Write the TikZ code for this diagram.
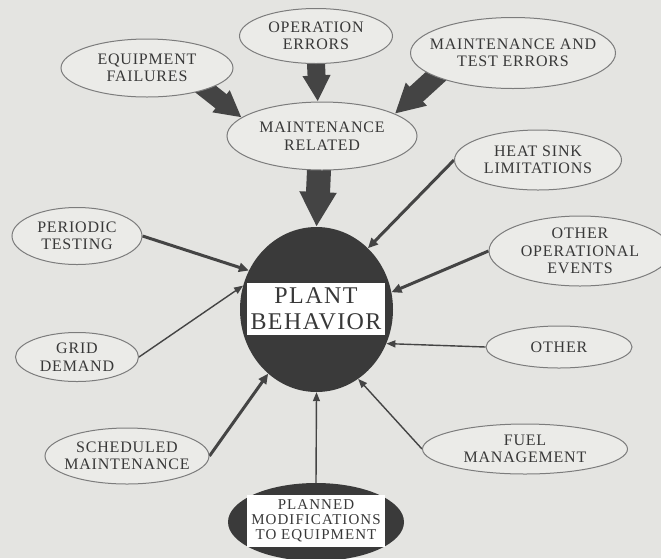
\documentclass[tikz,border=0pt]{standalone}
\usepackage{fontspec}
\usepackage{tikz}
\usetikzlibrary{arrows.meta,shapes.geometric}
\newfontfamily\lblfont[LetterSpace=5]{Liberation Serif}
\newfontfamily\hubfont[LetterSpace=6]{Liberation Serif}
\newfontfamily\planfont[LetterSpace=7]{Liberation Serif}
\definecolor{paper}{HTML}{E4E4E1}
\definecolor{bubblefill}{HTML}{EBEBE8}
\definecolor{inkgray}{HTML}{383838}
\definecolor{rimgray}{HTML}{7C7C7C}
\definecolor{hubdark}{HTML}{3A3A3A}
\definecolor{arrdark}{HTML}{444444}
\pgfdeclarelayer{bg}
\pgfsetlayers{bg,main}

\begin{document}
\begin{tikzpicture}[
  x=1pt, y=-1pt,
  bubble/.style={ellipse, draw=rimgray, fill=bubblefill, line width=1pt, inner sep=0pt},
  txt/.style={align=center, inner sep=0pt, text=inkgray, font=\lblfont\fontsize{16}{17.5}\selectfont},
  whitebox/.style={fill=white, inner sep=0pt, align=center, text=inkgray, minimum width=138pt, minimum height=52pt},
  bigarr/.style={draw=arrdark, line width=#1, shorten <=-8pt, -{Triangle[length=0pt 1.45, width=0pt 1.45]}},
  arr/.style={draw=arrdark, line width=3pt, -{Triangle[length=10pt, width=9pt]}},
  thinarr/.style={draw=arrdark, line width=1.4pt, -{Triangle[length=9pt, width=7pt]}}
]
  \useasboundingbox (0,0) rectangle (661,558);

  \node[bubble, minimum width=172pt, minimum height=58pt] (equip) at (147,68) {};
  \node[txt] (equiptxt) at (equip) {EQUIPMENT\\FAILURES};
  \node[bubble, minimum width=153pt, minimum height=55pt] (oper) at (316,36) {};
  \node[txt] (opertxt) at (oper) {OPERATION\\ERRORS};
  \node[bubble, minimum width=205pt, minimum height=71pt] (mte) at (513,53) {};
  \node[txt] (mtetxt) at (mte) {MAINTENANCE AND\\TEST ERRORS};
  \node[bubble, minimum width=190pt, minimum height=68pt] (mrel) at (322,136) {};
  \node[txt] (mreltxt) at (mrel) {MAINTENANCE\\RELATED};
  \node[bubble, minimum width=167pt, minimum height=60pt] (heat) at (538,160) {};
  \node[txt] (heattxt) at (heat) {HEAT SINK\\LIMITATIONS};
  \node[bubble, minimum width=130pt, minimum height=57pt] (periodic) at (77,236) {};
  \node[txt] (periodictxt) at (periodic) {PERIODIC\\TESTING};
  \node[bubble, minimum width=182pt, minimum height=70pt] (opev) at (580,251) {};
  \node[txt] (opevtxt) at (opev) {OTHER\\OPERATIONAL\\EVENTS};
  \node[bubble, minimum width=123pt, minimum height=49pt] (grid) at (77,357) {};
  \node[txt] (gridtxt) at (grid) {GRID\\DEMAND};
  \node[bubble, minimum width=146pt, minimum height=42pt] (other) at (559,347) {};
  \node[txt] (othertxt) at (other) {OTHER};
  \node[bubble, minimum width=164pt, minimum height=56pt] (sched) at (127,456) {};
  \node[txt] (schedtxt) at (sched) {SCHEDULED\\MAINTENANCE};
  \node[bubble, minimum width=205pt, minimum height=50pt] (fuel) at (525,449) {};
  \node[txt] (fueltxt) at (fuel) {FUEL\\MANAGEMENT};

  \node[ellipse, fill=hubdark, inner sep=0pt, minimum width=153pt, minimum height=165pt] (plant) at (316.5,309.5) {};
  \node[whitebox, font=\hubfont\fontsize{24}{26}\selectfont] (plantbox) at (316,309) {PLANT\\BEHAVIOR};
  \node[ellipse, fill=hubdark, inner sep=0pt, minimum width=176pt, minimum height=78pt] (planned) at (316,522) {};
  \node[whitebox, font=\planfont\fontsize{15}{15}\selectfont] (plannedbox) at (316,521) {PLANNED\\MODIFICATIONS\\TO EQUIPMENT};

  \begin{pgfonlayer}{bg}
    \fill[paper] (0,0) rectangle (661,558);
    \draw[bigarr=18pt] (equip.-20) -- (mrel.167);
    \draw[bigarr=18pt] (oper.south) -- (mrel.97);
    \draw[bigarr=20pt] (mte.-163) -- (mrel.17);
    \draw[bigarr=24pt] (mrel.-95) -- (plant.north);
    \draw[arr] (heat.west) -- (plant.50);
    \draw[arr] (opev.west) -- (plant.13);
    \draw[arr] (periodic.east) -- (plant.150);
    \draw[arr] (sched.east) -- (plant.-127);
    \draw[thinarr] (other.west) -- (plant.-26);
    \draw[thinarr] (fuel.west) -- (plant.-59);
    \draw[thinarr] (grid.east) -- (plant.162);
    \draw[thinarr] (planned.north) -- (plant.south);
  \end{pgfonlayer}
\end{tikzpicture}
\end{document}
